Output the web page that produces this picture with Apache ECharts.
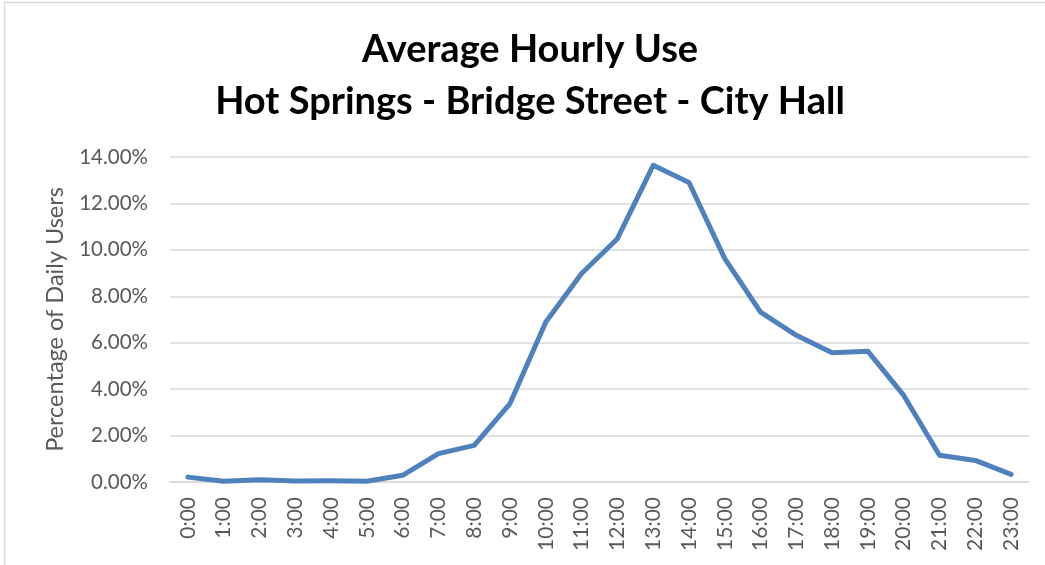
<!DOCTYPE html>
<html>
<head>
<meta charset="utf-8">
<script src="https://cdn.jsdelivr.net/npm/echarts@6/dist/echarts.min.js"></script>
<style>
  html, body { margin: 0; padding: 0; background: #fff; }
</style>
</head>
<body>
<div id="main" style="width: 1045px; height: 565px;"></div>
<script>
// hours of the day
var hours = ["0:00", "1:00", "2:00", "3:00", "4:00", "5:00", "6:00", "7:00", "8:00", "9:00", "10:00", "11:00",
  "12:00", "13:00", "14:00", "15:00", "16:00", "17:00", "18:00", "19:00", "20:00", "21:00", "22:00", "23:00"];
// percentage of daily users
var usePct = [0.21, 0.03, 0.10, 0.04, 0.05, 0.03, 0.29, 1.22, 1.58, 3.38, 6.89, 8.98,
  10.48, 13.64, 12.90, 9.62, 7.32, 6.32, 5.57, 5.63, 3.73, 1.15, 0.93, 0.33];
var yTicks = { min: 0, max: 14, step: 2 };

var myChart = echarts.init(document.getElementById("main"));
var option = {
  backgroundColor: "#fff",
  animation: false,
  title: {
    text: "Average Hourly Use\nHot Springs - Bridge Street - City Hall",
    left: 530,
    textAlign: "center",
    top: 24,
    padding: 0,
    textStyle: {
      fontFamily: "Lato",
      fontWeight: "bold",
      fontSize: 38,
      lineHeight: 52,
      color: "#000"
    }
  },
  graphic: [
    {
      type: "rect",
      shape: { x: 4.5, y: 2.5, width: 1100, height: 700 },
      style: { fill: "none", stroke: "#d9d9d9", lineWidth: 1.5 },
      silent: true
    }
  ],
  grid: {
    left: 170,
    right: 16,
    top: 157,
    bottom: 83
  },
  xAxis: {
    type: "category",
    data: hours,
    boundaryGap: true,
    axisLine: { show: true, lineStyle: { color: "#d9d9d9", width: 1.5 } },
    axisTick: { show: false },
    axisLabel: {
      rotate: 90,
      margin: 15,
      interval: 0,
      color: "#595959",
      fontFamily: "Lato",
      fontSize: 21
    }
  },
  yAxis: {
    type: "value",
    min: yTicks.min,
    max: yTicks.max,
    interval: yTicks.step,
    name: "Percentage of Daily Users",
    nameLocation: "middle",
    nameGap: 103,
    nameTextStyle: {
      color: "#595959",
      fontFamily: "Lato",
      fontSize: 23.5
    },
    axisLine: { show: false },
    axisTick: { show: false },
    axisLabel: {
      margin: 22,
      color: "#595959",
      fontFamily: "Lato",
      fontSize: 20.5,
      formatter: function (v) { return v.toFixed(2) + "%"; }
    },
    splitLine: { lineStyle: { color: "#d9d9d9", width: 1.5 } }
  },
  series: [
    {
      name: "Average Hourly Use",
      type: "line",
      data: usePct,
      showSymbol: false,
      symbol: "none",
      lineStyle: { color: "#4f81bd", width: 5, cap: "round", join: "round" }
    }
  ]
};
myChart.setOption(option);
</script>
</body>
</html>
